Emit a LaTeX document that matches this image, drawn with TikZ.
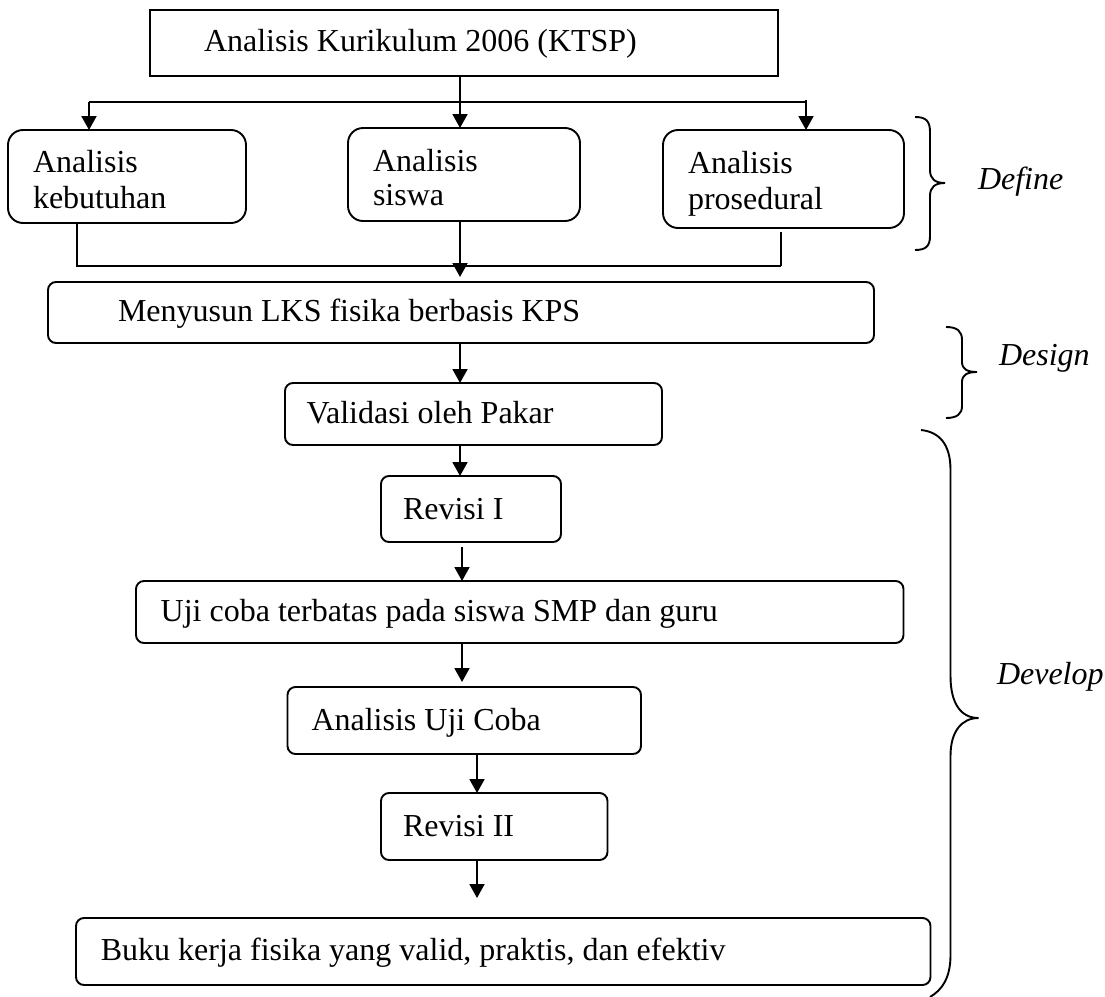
\documentclass[tikz,border=0pt]{standalone}
\usepackage{fontspec}
\setmainfont{Liberation Serif}
\usetikzlibrary{arrows.meta,calc}
\begin{document}
\begin{tikzpicture}[x=1pt,y=-1pt,line width=1.9pt,
  every node/.style={inner sep=0pt,outer sep=0pt,font=\fontsize{32}{36}\selectfont},
  sqbox/.style={draw,line width=1.9pt},
  rbox/.style={draw,line width=1.9pt,rounded corners=8pt},
  bigrbox/.style={draw,line width=1.9pt,rounded corners=15pt},
  txt/.style={anchor=base west},
  phase/.style={anchor=base west,font=\fontsize{32}{36}\selectfont\itshape},
  arr/.style={-{Triangle[length=14pt,width=15pt]}},
  brace/.style={line width=1.9pt}]
\useasboundingbox (0,0) rectangle (1105,996);

% boxes
\node[sqbox,minimum width=628pt,minimum height=66pt] (top) at (464,43) {};
\node[bigrbox,minimum width=238pt,minimum height=93pt] (b1) at (127,176.5) {};
\node[bigrbox,minimum width=232pt,minimum height=93pt] (b2) at (464,174.5) {};
\node[bigrbox,minimum width=241pt,minimum height=98pt] (b3) at (783.5,179) {};
\node[rbox,minimum width=826pt,minimum height=61pt] (m) at (461,312.5) {};
\node[rbox,minimum width=377pt,minimum height=62pt] (v) at (473.5,414) {};
\node[rbox,minimum width=180pt,minimum height=66pt] (r1) at (471,509) {};
\node[rbox,minimum width=767.5pt,minimum height=62pt] (u) at (519.75,612) {};
\node[rbox,minimum width=353.5pt,minimum height=67pt] (a) at (464.25,720.5) {};
\node[rbox,minimum width=226.5pt,minimum height=67pt] (r2) at (494.25,826.5) {};
\node[rbox,minimum width=854.5pt,minimum height=67pt] (bk) at (503.25,951.5) {};

% texts
\node[txt] (t0) at (204,51) {Analisis Kurikulum 2006 (KTSP)};
\node[txt] (t1a) at (33,172.7) {Analisis};
\node[txt] (t1b) at (33,208) {kebutuhan};
\node[txt] (t2a) at (373,171.7) {Analisis};
\node[txt] (t2b) at (373,205) {siswa};
\node[txt] (t3a) at (688,173) {Analisis};
\node[txt] (t3b) at (688,209) {prosedural};
\node[txt] (tm) at (118,321.7) {Menyusun LKS fisika berbasis KPS};
\node[txt] (tv) at (306.5,423) {Validasi oleh Pakar};
\node[txt] (tr1) at (403,519) {Revisi I};
\node[txt] (tu) at (160.7,621.7) {Uji coba terbatas pada siswa SMP dan guru};
\node[txt] (ta) at (311.5,730) {Analisis Uji Coba};
\node[txt] (tr2) at (403,836) {Revisi II};
\node[txt] (tbk) at (100.8,960) {Buku kerja fisika yang valid, praktis, dan efektiv};

\node[phase] (pdef) at (978,189) {Define};
\node[phase] (pdes) at (999,365) {Design};
\node[phase] (pdev) at (997,684.6) {Develop};

% helper coordinates
\coordinate (xa) at (460,0);
\coordinate (xb) at (460,0);
\coordinate (xc) at (462,0);
\coordinate (xd) at (477,0);
\coordinate (xk) at (77,0);
\coordinate (hl) at (89,102);
\coordinate (hr) at (806,102);
\coordinate (hr0) at (806,100);
\coordinate (jn) at (781,266);
\coordinate (j3) at (781,232);
\coordinate (fe) at (477,898);

% connectors
\draw[arr] (top.south -| xa) -- (b2.north -| xa);
\draw (hl) -- (hr);
\draw[arr] (hl) -- (b1.north -| hl);
\draw[arr] (hr0) -- (b3.north -| hr);
\draw (b1.south -| xk) |- (jn);
\draw (j3) -- (jn);
\draw[arr] (b2.south -| xa) -- ($(m.north -| xa)+(0,-5)$);
\draw[arr] (m.south -| xb) -- (v.north -| xb);
\draw[arr] (v.south -| xb) -- (r1.north -| xb);
\draw[arr] ($(r1.south -| xc)+(0,5)$) -- (u.north -| xc);
\draw[arr] (u.south -| xc) -- ($(a.north -| xc)+(0,-5)$);
\draw[arr] (a.south -| xd) -- (r2.north -| xd);
\draw[arr] (r2.south -| xd) -- (fe);

% braces
\draw[brace] (915,117) .. controls (926,117) and (930,121) .. (930,132) -- (930,170)
  .. controls (930,179) and (935,183) .. (945,183)
  .. controls (935,183) and (930,187) .. (930,196) -- (930,236)
  .. controls (930,246) and (926,250) .. (915,250);
\draw[brace] (946,327) .. controls (957,327) and (962,331) .. (962,340) -- (962,362)
  .. controls (962,369) and (967,372) .. (977,372)
  .. controls (967,372) and (962,375) .. (962,382) -- (962,406)
  .. controls (962,414) and (957,418) .. (946,418);
\draw[brace] (921,430) .. controls (940,432) and (950.5,445) .. (950.5,470) -- (950.5,676)
  .. controls (950.5,705) and (962,718) .. (978.5,718)
  .. controls (962,718) and (950.5,731) .. (950.5,756) -- (950.5,955)
  .. controls (950.5,978) and (942,990) .. (930,997);
\end{tikzpicture}
\end{document}
